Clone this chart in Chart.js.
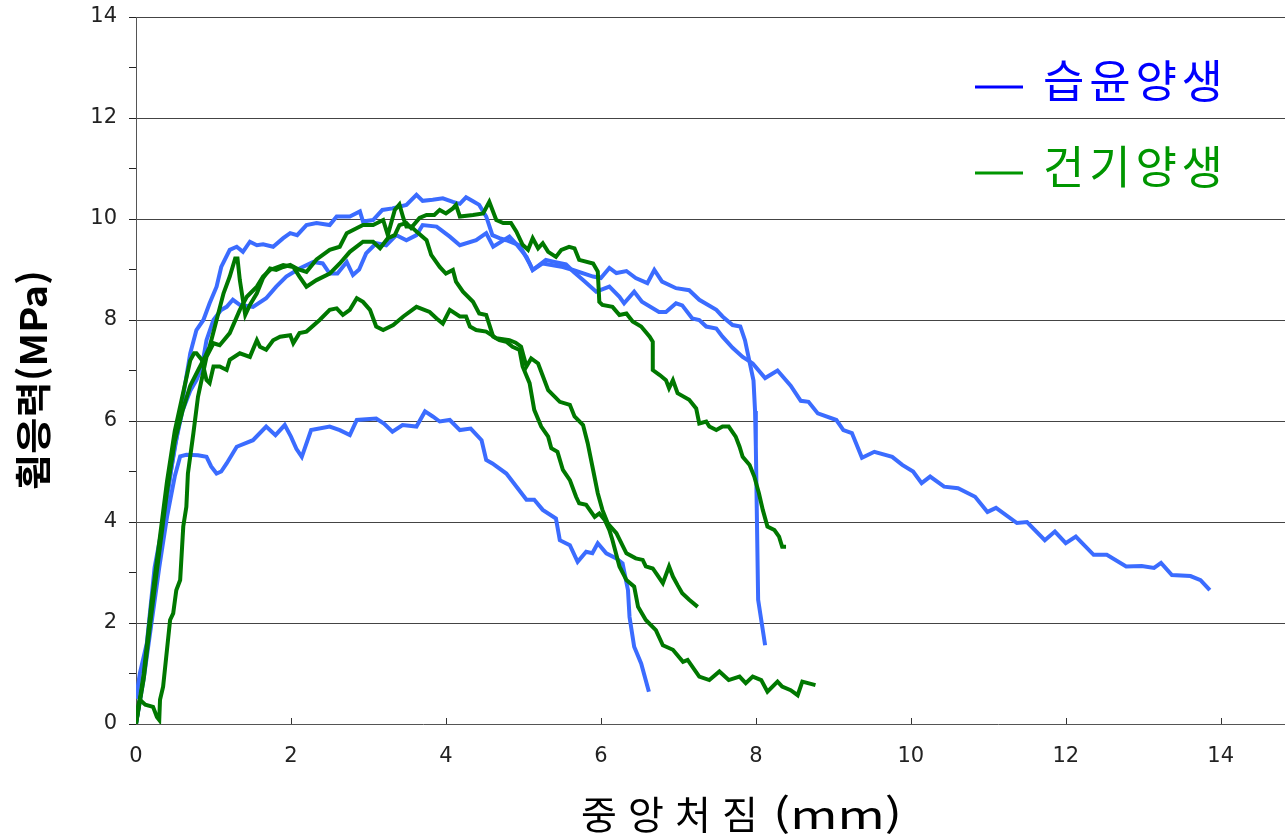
<!DOCTYPE html>
<html lang="ko">
<head>
<meta charset="utf-8">
<title>휨응력 - 중앙처짐</title>
<script src="https://cdn.jsdelivr.net/npm/chart.js@4.4.1/dist/chart.umd.min.js"></script>
<style>
  html, body { margin: 0; padding: 0; background: #fff; }
  #wrap { width: 1285px; height: 837px; }
</style>
</head>
<body>
<div id="wrap"><canvas id="chart" width="1285" height="837"></canvas></div>
<script>
// 습윤양생 (wet curing) - three specimens, [deflection mm, stress MPa]
const wet1 = [[0,0.5],[0.05,1.0],[0.14,1.6],[0.2,2.5],[0.24,3.1],[0.35,4.0],[0.45,5.0],[0.55,5.9],[0.62,6.6],[0.7,7.34],[0.78,7.8],[0.87,8.0],[0.95,8.33],[1.04,8.66],[1.1,9.05],[1.21,9.39],[1.3,9.45],[1.38,9.35],[1.47,9.55],[1.56,9.48],[1.64,9.5],[1.77,9.45],[1.9,9.62],[1.99,9.72],[2.08,9.68],[2.2,9.88],[2.33,9.92],[2.5,9.88],[2.59,10.05],[2.76,10.05],[2.89,10.15],[2.93,9.95],[3.06,9.98],[3.18,10.18],[3.31,10.21],[3.49,10.28],[3.62,10.48],[3.7,10.36],[3.83,10.38],[3.96,10.41],[4.09,10.34],[4.18,10.3],[4.26,10.43],[4.35,10.35],[4.43,10.28],[4.52,10.05],[4.6,9.68],[4.69,9.62],[4.78,9.58],[4.95,9.48],[5.08,9.12],[5.12,8.99],[5.29,9.19],[5.4,9.15],[5.55,9.1],[5.65,8.95],[5.77,8.79],[5.94,8.56],[6.11,8.66],[6.24,8.46],[6.3,8.33],[6.43,8.56],[6.53,8.36],[6.75,8.16],[6.84,8.16],[6.97,8.33],[7.05,8.29],[7.18,8.03],[7.27,8.0],[7.36,7.87],[7.49,7.83],[7.57,7.67],[7.7,7.45],[7.83,7.27],[7.96,7.14],[8.12,6.85],[8.28,7.0],[8.45,6.7],[8.58,6.4],[8.68,6.38],[8.8,6.15],[9.04,6.02],[9.13,5.82],[9.24,5.76],[9.37,5.27],[9.53,5.39],[9.76,5.29],[9.89,5.13],[10.03,5.0],[10.14,4.77],[10.25,4.9],[10.43,4.7],[10.61,4.67],[10.83,4.5],[10.99,4.2],[11.1,4.28],[11.37,3.98],[11.5,4.0],[11.73,3.64],[11.86,3.81],[12.0,3.58],[12.13,3.71],[12.36,3.35],[12.53,3.35],[12.78,3.12],[12.98,3.13],[13.14,3.09],[13.23,3.19],[13.37,2.95],[13.61,2.93],[13.74,2.85],[13.86,2.65]];
const wet2 = [[0,0],[0.1,1.0],[0.2,2.2],[0.3,3.4],[0.4,4.5],[0.5,5.5],[0.6,6.2],[0.7,6.6],[0.78,6.81],[0.85,7.07],[0.91,7.6],[1.0,8.0],[1.1,8.2],[1.17,8.26],[1.25,8.4],[1.34,8.3],[1.51,8.26],[1.68,8.43],[1.81,8.66],[1.94,8.86],[2.11,9.02],[2.29,9.15],[2.41,9.12],[2.5,8.92],[2.6,8.92],[2.72,9.15],[2.8,8.89],[2.88,9.0],[2.97,9.32],[3.1,9.52],[3.23,9.48],[3.36,9.68],[3.49,9.58],[3.62,9.68],[3.7,9.88],[3.88,9.85],[4.05,9.65],[4.18,9.48],[4.39,9.58],[4.52,9.72],[4.61,9.45],[4.82,9.65],[4.9,9.52],[5.04,9.25],[5.12,8.99],[5.25,9.12],[5.51,9.05],[5.64,8.99],[5.9,8.86],[6.0,8.83],[6.11,9.03],[6.2,8.93],[6.33,8.97],[6.45,8.83],[6.6,8.73],[6.69,8.99],[6.79,8.76],[6.97,8.63],[7.14,8.59],[7.27,8.4],[7.49,8.2],[7.57,8.07],[7.7,7.9],[7.8,7.87],[7.86,7.6],[7.97,6.8],[7.99,6.2],[8.0,5.5],[8.03,2.46],[8.08,1.96],[8.12,1.56]];
const wet3 = [[0,0],[0.1,0.9],[0.2,2.0],[0.3,3.1],[0.4,4.1],[0.5,4.9],[0.57,5.3],[0.65,5.33],[0.8,5.32],[0.91,5.29],[0.97,5.1],[1.04,4.96],[1.1,5.0],[1.17,5.16],[1.3,5.49],[1.51,5.62],[1.68,5.89],[1.8,5.72],[1.92,5.92],[2.0,5.69],[2.07,5.45],[2.14,5.29],[2.26,5.82],[2.5,5.89],[2.63,5.82],[2.76,5.72],[2.85,6.02],[3.1,6.05],[3.2,5.95],[3.31,5.79],[3.44,5.92],[3.62,5.89],[3.73,6.19],[3.83,6.09],[3.92,5.99],[4.05,6.02],[4.18,5.82],[4.32,5.85],[4.46,5.62],[4.52,5.23],[4.6,5.16],[4.78,4.96],[5.04,4.44],[5.14,4.44],[5.25,4.24],[5.42,4.07],[5.47,3.64],[5.6,3.54],[5.7,3.21],[5.81,3.41],[5.89,3.38],[5.96,3.58],[6.07,3.38],[6.2,3.28],[6.28,3.18],[6.35,2.65],[6.37,2.12],[6.43,1.53],[6.52,1.2],[6.62,0.64]];

// 건기양생 (dry curing) - three specimens
const dry1 = [[0,0],[0.1,0.9],[0.2,2.2],[0.3,3.4],[0.4,4.6],[0.5,5.6],[0.6,6.2],[0.7,6.7],[0.8,7.0],[0.9,7.3],[0.95,7.47],[1.04,8.0],[1.13,8.53],[1.21,8.86],[1.28,9.22],[1.31,9.22],[1.34,8.79],[1.41,8.1],[1.47,8.3],[1.56,8.53],[1.64,8.83],[1.73,9.02],[1.81,8.99],[1.9,9.05],[1.99,9.09],[2.1,9.0],[2.2,8.95],[2.33,9.2],[2.5,9.39],[2.63,9.45],[2.72,9.72],[2.93,9.88],[3.06,9.88],[3.19,9.98],[3.25,9.68],[3.34,10.18],[3.4,10.29],[3.45,10.02],[3.49,9.85],[3.55,9.85],[3.62,9.75],[3.75,9.58],[3.81,9.29],[3.92,9.05],[4.0,8.92],[4.09,8.99],[4.13,8.76],[4.22,8.56],[4.35,8.36],[4.43,8.13],[4.52,8.1],[4.61,7.67],[4.69,7.6],[4.78,7.57],[4.86,7.47],[4.95,7.41],[4.99,7.08],[5.08,6.75],[5.14,6.22],[5.23,5.89],[5.32,5.69],[5.36,5.46],[5.44,5.39],[5.51,5.03],[5.6,4.83],[5.68,4.5],[5.72,4.37],[5.81,4.34],[5.92,4.1],[5.98,4.17],[6.05,4.04],[6.11,3.84],[6.15,3.64],[6.24,3.12],[6.33,2.85],[6.43,2.72],[6.48,2.32],[6.58,2.06],[6.71,1.86],[6.8,1.56],[6.93,1.47],[7.06,1.23],[7.12,1.27],[7.27,0.94],[7.4,0.87],[7.53,1.04],[7.65,0.87],[7.79,0.94],[7.87,0.81],[7.96,0.94],[8.07,0.87],[8.15,0.64],[8.28,0.84],[8.34,0.74],[8.45,0.67],[8.54,0.57],[8.6,0.84],[8.77,0.77]];
const dry2 = [[0,0.2],[0.05,0.48],[0.12,0.38],[0.22,0.34],[0.27,0.14],[0.3,0.08],[0.31,0.48],[0.35,0.74],[0.44,2.06],[0.48,2.19],[0.52,2.65],[0.57,2.85],[0.61,3.91],[0.65,4.3],[0.67,4.96],[0.74,5.75],[0.8,6.48],[0.91,7.27],[1.0,7.54],[1.08,7.5],[1.21,7.74],[1.34,8.2],[1.43,8.46],[1.56,8.66],[1.64,8.86],[1.73,8.99],[1.9,9.09],[2.03,9.05],[2.11,8.86],[2.2,8.66],[2.33,8.79],[2.5,8.92],[2.63,9.12],[2.76,9.35],[2.93,9.55],[3.06,9.55],[3.15,9.42],[3.25,9.62],[3.34,9.68],[3.4,9.88],[3.49,9.92],[3.55,9.82],[3.66,10.02],[3.75,10.08],[3.85,10.08],[3.92,10.18],[4.0,10.11],[4.09,10.21],[4.13,10.28],[4.18,10.05],[4.35,10.08],[4.48,10.11],[4.56,10.34],[4.65,9.98],[4.74,9.92],[4.84,9.92],[4.91,9.75],[4.99,9.49],[5.06,9.39],[5.12,9.62],[5.19,9.42],[5.25,9.52],[5.32,9.35],[5.42,9.25],[5.49,9.39],[5.59,9.45],[5.66,9.42],[5.72,9.19],[5.9,9.12],[5.96,8.96],[5.98,8.36],[6.02,8.3],[6.15,8.26],[6.24,8.1],[6.33,8.13],[6.41,7.97],[6.52,7.87],[6.63,7.67],[6.67,7.57],[6.67,7.01],[6.76,6.91],[6.84,6.81],[6.88,6.65],[6.93,6.81],[6.99,6.55],[7.14,6.42],[7.23,6.25],[7.27,5.95],[7.36,5.99],[7.4,5.89],[7.49,5.82],[7.57,5.89],[7.65,5.89],[7.74,5.69],[7.79,5.49],[7.83,5.29],[7.92,5.13],[7.98,4.9],[8.04,4.57],[8.09,4.24],[8.15,3.91],[8.24,3.84],[8.3,3.71],[8.34,3.51],[8.39,3.51]];
const dry3 = [[0,0],[0.1,1.0],[0.2,2.4],[0.3,3.6],[0.4,4.8],[0.5,5.8],[0.6,6.5],[0.7,7.2],[0.75,7.34],[0.78,7.34],[0.85,7.21],[0.91,6.81],[0.95,6.75],[1.0,7.08],[1.08,7.08],[1.17,7.01],[1.21,7.21],[1.34,7.34],[1.47,7.27],[1.56,7.6],[1.6,7.47],[1.68,7.41],[1.77,7.6],[1.86,7.67],[1.99,7.7],[2.03,7.54],[2.11,7.74],[2.2,7.77],[2.37,8.0],[2.5,8.2],[2.59,8.23],[2.67,8.1],[2.76,8.2],[2.85,8.43],[2.93,8.36],[3.02,8.2],[3.1,7.87],[3.19,7.8],[3.32,7.9],[3.45,8.07],[3.62,8.26],[3.79,8.16],[3.88,8.03],[3.96,7.93],[4.05,8.2],[4.18,8.07],[4.26,8.07],[4.31,7.87],[4.39,7.8],[4.52,7.77],[4.65,7.64],[4.82,7.6],[4.9,7.55],[4.97,7.47],[5.04,7.08],[5.1,7.24],[5.19,7.14],[5.32,6.61],[5.47,6.38],[5.6,6.32],[5.66,6.09],[5.77,5.92],[5.83,5.56],[5.9,5.03],[5.96,4.57],[6.02,4.24],[6.09,3.97],[6.2,3.78],[6.33,3.38],[6.45,3.28],[6.54,3.25],[6.58,3.12],[6.67,3.08],[6.73,2.95],[6.8,2.79],[6.88,3.12],[6.93,2.92],[6.99,2.75],[7.05,2.59],[7.14,2.46],[7.25,2.32]];

const xTickValues = [0, 2, 4, 6, 8, 10, 12, 14];
const yTickValues = [0, 2, 4, 6, 8, 10, 12, 14];
const legendLabels = ['습윤양생', '건기양생'];
const xTitleWord = '중앙처짐';
const xTitleUnit = '(mm)';
const yTitle = '휨응력(MPa)';

const WET = '#3b6cff';
const DRY = '#007800';

const toPoints = arr => arr.map(p => ({ x: p[0], y: p[1] }));
const line = (data, color) => ({
    data: toPoints(data),
    borderColor: color,
    backgroundColor: color,
    borderWidth: 4,
    pointRadius: 0,
    showLine: true,
    tension: 0,
    fill: false
});

// green drawn over blue: dataset 0 ends up on top in Chart.js
const datasets = [
    line(dry1, DRY), line(dry2, DRY), line(dry3, DRY),
    line(wet1, WET), line(wet2, WET), line(wet3, WET)
];

// draw text one character at a time so it fills a given width
function spreadText(ctx, text, x0, width, y) {
    const chars = Array.from(text);
    const natural = chars.reduce((s, c) => s + ctx.measureText(c).width, 0);
    const gap = chars.length > 1 ? (width - natural) / (chars.length - 1) : 0;
    let x = x0;
    chars.forEach(c => {
        ctx.fillText(c, x, y);
        x += ctx.measureText(c).width + gap;
    });
}

const decorations = {
    id: 'decorations',
    afterDraw(chart) {
        const ctx = chart.ctx;
        const xs = chart.scales.x;
        const ys = chart.scales.y;
        ctx.save();

        // small inner ticks on the x axis
        ctx.strokeStyle = '#333';
        ctx.lineWidth = 1;
        xTickValues.forEach(v => {
            if (v === 0) return;
            const px = Math.round(xs.getPixelForValue(v)) + 0.5;
            ctx.beginPath();
            ctx.moveTo(px, ys.bottom);
            ctx.lineTo(px, ys.bottom - 6);
            ctx.stroke();
        });

        // legend
        const legendColors = ['#0000ff', '#009600'];
        const legendY = [84, 170];
        ctx.font = '45px "Noto Sans CJK KR"';
        ctx.textBaseline = 'middle';
        ctx.textAlign = 'left';
        legendLabels.forEach((t, i) => {
            ctx.strokeStyle = legendColors[i];
            ctx.lineWidth = 3;
            ctx.beginPath();
            ctx.moveTo(975, legendY[i] + 3);
            ctx.lineTo(1023, legendY[i] + 3);
            ctx.stroke();
            ctx.fillStyle = legendColors[i];
            spreadText(ctx, t, 1043, 180, legendY[i] - 3);
        });

        // x title
        ctx.fillStyle = '#000';
        ctx.font = '39px "Noto Sans CJK KR"';
        spreadText(ctx, xTitleWord, 581, 177, 814);
        ctx.save();
        ctx.translate(773, 814);
        const uw = ctx.measureText(xTitleUnit).width;
        ctx.scale(129 / uw, 1);
        ctx.fillText(xTitleUnit, 0, 0);
        ctx.restore();

        // y title, rotated
        ctx.translate(33, 380);
        ctx.rotate(-Math.PI / 2);
        ctx.font = 'bold 36px "Noto Sans CJK KR"';
        const w = ctx.measureText(yTitle).width;
        ctx.scale(220 / w, 1);
        ctx.textAlign = 'center';
        ctx.fillText(yTitle, 0, 0);

        ctx.restore();
    }
};

new Chart(document.getElementById('chart'), {
    type: 'scatter',
    data: { datasets },
    plugins: [decorations],
    options: {
        responsive: false,
        devicePixelRatio: 1,
        animation: false,
        events: [],
        layout: { padding: { top: 17, right: 0, left: 0, bottom: 0 } },
        plugins: {
            legend: { display: false },
            tooltip: { enabled: false }
        },
        scales: {
            x: {
                type: 'linear',
                min: 0,
                max: 14.83,
                afterBuildTicks: scale => {
                    scale.ticks = xTickValues.map(v => ({ value: v }));
                },
                afterFit: scale => {
                    scale.height = 113;
                    scale.paddingLeft = 0;
                    scale.paddingRight = 0;
                },
                grid: { drawOnChartArea: false, drawTicks: false },
                border: { display: true, color: '#555', width: 1 },
                ticks: {
                    autoSkip: false,
                    maxRotation: 0,
                    padding: 20,
                    color: '#222',
                    font: { family: 'DejaVu Sans', size: 21 }
                }
            },
            y: {
                type: 'linear',
                min: 0,
                max: 14,
                afterFit: scale => {
                    scale.width = 136;
                    scale.paddingTop = 0;
                    scale.paddingBottom = 0;
                },
                ticks: {
                    stepSize: 1,
                    padding: 12,
                    color: '#222',
                    font: { family: 'DejaVu Sans', size: 21 },
                    callback: v => (yTickValues.includes(v) ? v : '')
                },
                grid: {
                    color: c => (c.tick && c.tick.value % 2 === 0 && c.tick.value > 0 ? '#444' : 'rgba(0,0,0,0)'),
                    tickColor: '#222',
                    tickLength: 7,
                    lineWidth: 1
                },
                border: { display: true, color: '#555', width: 1 }
            }
        }
    }
});
</script>
</body>
</html>
